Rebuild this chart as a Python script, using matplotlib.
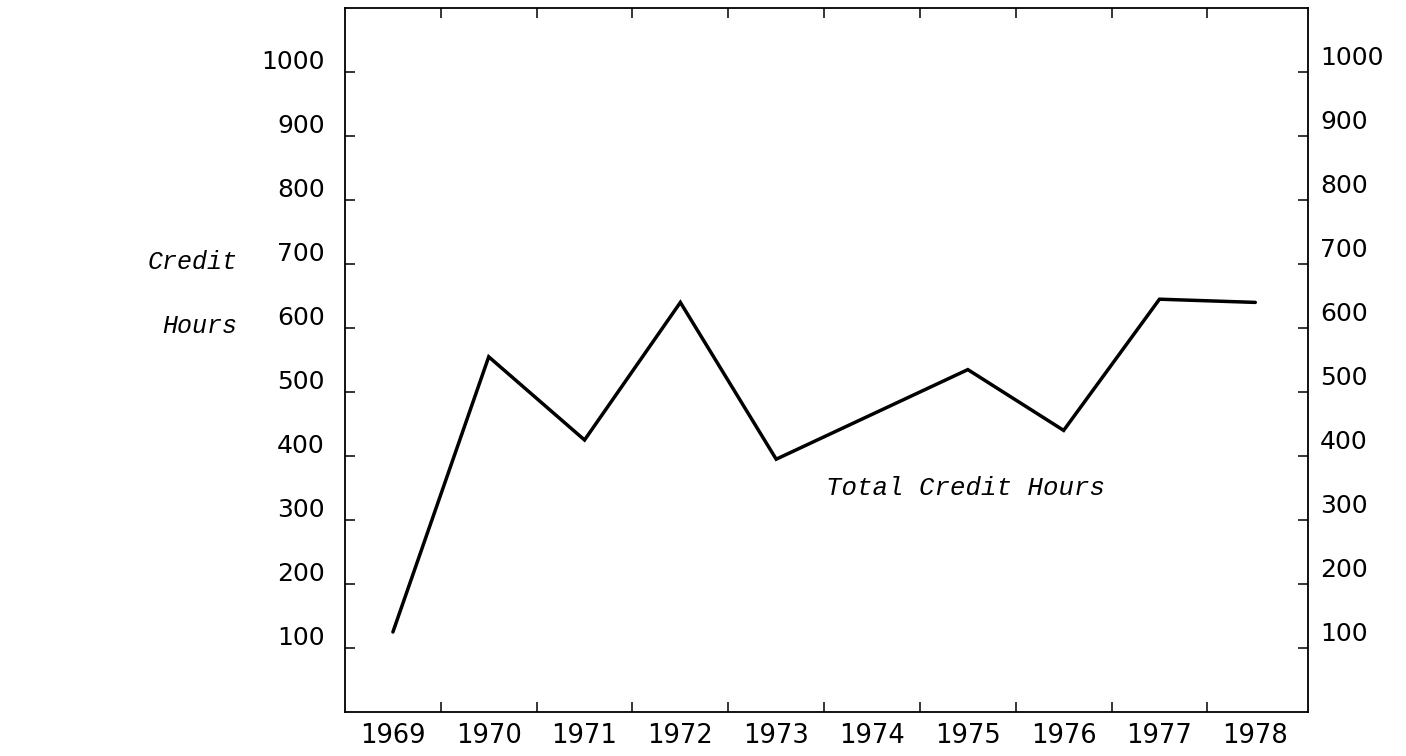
import matplotlib
matplotlib.use("Agg")
import matplotlib.pyplot as plt
from matplotlib.transforms import ScaledTranslation

# Data
years = [1969, 1970, 1971, 1972, 1973, 1975, 1976, 1977, 1978]
credit_hours = [125, 555, 425, 640, 395, 535, 440, 645, 640]
year_labels = [1969, 1970, 1971, 1972, 1973, 1974, 1975, 1976, 1977, 1978]
y_ticks = [100, 200, 300, 400, 500, 600, 700, 800, 900, 1000]
series_label = "Total Credit Hours"
axis_label_lines = ["Credit", "Hours"]

W, H = 1406, 756
fig = plt.figure(figsize=(W / 100, H / 100), dpi=100)
L, R, T, B = 345, 1308, 8, 712
ax = fig.add_axes([L / W, (H - B) / H, (R - L) / W, (B - T) / H])

ax.plot(years, credit_hours, color="black", lw=2.5, solid_joinstyle="miter",
        solid_capstyle="round")

ax.set_xlim(1968.5, 1978.55)
ax.set_ylim(0, 1100)

for s in ax.spines.values():
    s.set_linewidth(1.3)
    s.set_color("black")

# x: year labels at majors (no marks), half-year minor tick marks
ax.set_xticks(year_labels)
ax.set_xticklabels([str(y) for y in year_labels], fontsize=18.5, family="DejaVu Sans")
ax.tick_params(axis="x", which="major", length=0, pad=8)
ax.set_xticks([y + 0.5 for y in year_labels[:-1]], minor=True)
ax.tick_params(axis="x", which="minor", direction="in", length=7, width=1.1,
               top=True, bottom=True)

# y: tick marks both sides, labels drawn as text slightly raised
ax.set_yticks(y_ticks)
ax.set_yticklabels([])
ax.tick_params(axis="y", which="major", direction="in", length=7, width=1.1,
               left=True, right=True)

ytrans = ax.get_yaxis_transform()
off_left = ScaledTranslation(-20 / 100, 10 / 100, fig.dpi_scale_trans)
off_right = ScaledTranslation(12 / 100, 14 / 100, fig.dpi_scale_trans)
for v in y_ticks:
    ax.text(0, v, str(v), transform=ytrans + off_left, ha="right", va="center",
            fontsize=18, family="DejaVu Sans")
    ax.text(1, v, str(v), transform=ytrans + off_right, ha="left", va="center",
            fontsize=18, family="DejaVu Sans")

ax.text(1973.52, 350, series_label, ha="left", va="center", fontsize=18.5,
        family="Liberation Mono", style="italic")

fig.text(148 / W, 1 - 262 / H, axis_label_lines[0], ha="left", va="center",
         fontsize=18, family="Liberation Mono", style="italic")
fig.text(162 / W, 1 - 326 / H, axis_label_lines[1], ha="left", va="center",
         fontsize=18, family="Liberation Mono", style="italic")

fig.savefig("out.png", dpi=100)
